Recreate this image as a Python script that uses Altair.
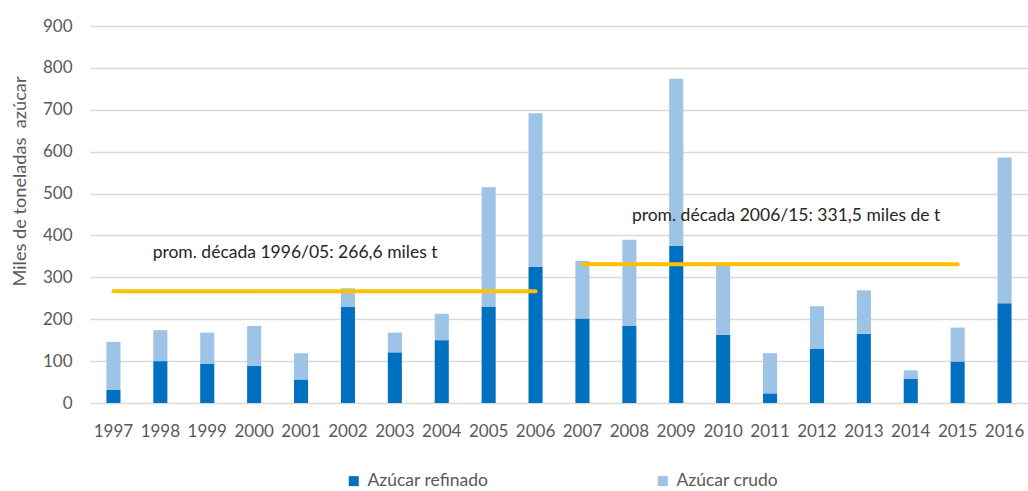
import altair as alt
import pandas as pd

years = [str(y) for y in range(1997, 2017)]
refinado = [31, 100, 94, 89, 56, 229, 121, 150, 229, 325, 202, 184, 375, 163, 23, 130, 165, 58, 99, 238]
crudo = [115, 74, 74, 95, 63, 45, 47, 63, 286, 367, 137, 206, 399, 164, 96, 101, 104, 20, 81, 348]

series_names = ["Azúcar refinado", "Azúcar crudo"]
series_colors = ["#0070C0", "#9DC3E6"]

avg_start = ["1997", "2007"]
avg_end = ["2006", "2015"]
avg_value = [266.6, 331.5]
avg_label = ["prom. década 1996/05: 266,6 miles t", "prom. década 2006/15: 331,5 miles de t"]
label_year = ["2001", "2011"]

rows = []
for i, y in enumerate(years):
    rows.append({"year": y, "serie": series_names[0], "value": refinado[i], "ord": 0})
    rows.append({"year": y, "serie": series_names[1], "value": crudo[i], "ord": 1})
df = pd.DataFrame(rows)

avg_df = pd.DataFrame({"start": avg_start, "end": avg_end, "value": avg_value,
                       "label": avg_label, "ly": label_year})

FONT = "Lato"
GRAY = "#595959"

xscale = alt.Scale(domain=years, paddingInner=0.7, paddingOuter=0.35)
yscale = alt.Scale(domain=[0, 900])

bars = alt.Chart(df).mark_bar().encode(
    x=alt.X("year:N", scale=xscale, sort=years,
            axis=alt.Axis(title=None, labelAngle=0, domain=False, ticks=False,
                          labelPadding=20, labelFont=FONT, labelFontSize=17,
                          labelColor=GRAY)),
    y=alt.Y("value:Q", stack="zero", scale=yscale,
            axis=alt.Axis(title="Miles de toneladas \u00a0azúcar", values=list(range(0, 1000, 100)),
                          domain=False, ticks=False, gridColor="#D9D9D9", gridWidth=1.5,
                          labelPadding=18, labelFont=FONT, labelFontSize=17, labelColor=GRAY,
                          titleFont=FONT, titleFontSize=18.2, titleFontWeight="normal",
                          titleColor=GRAY, titleX=-70, titleY=155, titleAngle=270,
                          titleAlign="center", titleBaseline="middle")),
    color=alt.Color("serie:N", scale=alt.Scale(domain=series_names, range=series_colors),
                    legend=alt.Legend(title=None, orient="none", direction="horizontal",
                                      legendX=255, legendY=446, symbolType="square",
                                      symbolSize=100, symbolStrokeWidth=0, labelFont=FONT,
                                      labelFontSize=17.5, labelColor=GRAY, columnPadding=165,
                                      labelOffset=5)),
    order=alt.Order("ord:Q"),
)

rules = alt.Chart(avg_df).mark_rule(color="#FFC000", strokeWidth=4, strokeCap="round").encode(
    x=alt.X("start:N", scale=xscale, sort=years),
    x2="end:N",
    y=alt.Y("value:Q", scale=yscale),
)

text1 = alt.Chart(avg_df.iloc[[0]]).mark_text(
    font=FONT, fontSize=17.5, color="#262626", align="center", baseline="middle",
    dx=-6, dy=-38).encode(
    x=alt.X("ly:N", scale=xscale, sort=years),
    y=alt.Y("value:Q", scale=yscale),
    text="label:N",
)
text2 = alt.Chart(avg_df.iloc[[1]]).mark_text(
    font=FONT, fontSize=17.5, color="#262626", align="center", baseline="middle",
    dx=16, dy=-48).encode(
    x=alt.X("ly:N", scale=xscale, sort=years),
    y=alt.Y("value:Q", scale=yscale),
    text="label:N",
)

chart = alt.layer(bars, rules, text1, text2).properties(
    width=938, height=377,
    autosize=alt.AutoSizeParams(type="none"),
    padding={"left": 90, "top": 26, "right": 0, "bottom": 88},
    background="white",
).configure_view(stroke=None)

chart.save("out.html", embed_options={"renderer": "svg", "actions": False})
